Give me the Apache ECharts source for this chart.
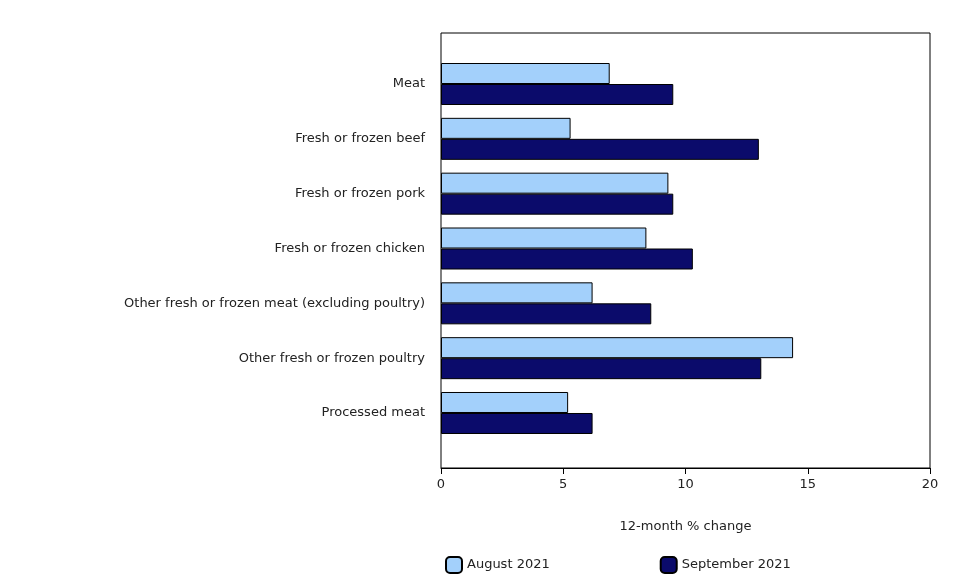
<!DOCTYPE html>
<html><head><meta charset="utf-8">
<script src="https://cdn.jsdelivr.net/npm/echarts@6/dist/echarts.min.js"></script>
<style>html,body{margin:0;padding:0;background:#fff}#c{width:980px;height:583px}</style>
</head><body><div id="c"></div>
<script>
const categories = ["Meat","Fresh or frozen beef","Fresh or frozen pork","Fresh or frozen chicken","Other fresh or frozen meat (excluding poultry)","Other fresh or frozen poultry","Processed meat"];
const aug2021 = [6.9,5.3,9.3,8.4,6.2,14.4,5.2];
const sep2021 = [9.5,13.0,9.5,10.3,8.6,13.1,6.2];
const xTicks = [0,5,10,15,20];
const font = 'DejaVu Sans';
const chart = echarts.init(document.getElementById('c'));
chart.setOption({
  animation:false,
  textStyle:{fontFamily:font,color:'#222'},
  grid:[
    {left:441,width:489,top:33,height:435,show:true,borderColor:'#000',borderWidth:1},
    {left:441,width:489,top:56.6,height:383.8}
  ],
  xAxis:[
    {gridIndex:0,type:'value',min:0,max:20,interval:5,
     axisLine:{show:true,lineStyle:{color:'#000'}},axisTick:{show:true,length:6,lineStyle:{color:'#000'}},
     splitLine:{show:false},axisLabel:{fontSize:13,color:'#222',margin:10,fontFamily:font},
     name:'12-month % change',nameLocation:'middle',nameGap:52,nameTextStyle:{fontSize:13,color:'#222',fontFamily:font}},
    {gridIndex:1,type:'value',min:0,max:20,show:false}
  ],
  yAxis:[
    {gridIndex:0,type:'value',show:false,min:0,max:1},
    {gridIndex:1,type:'category',data:categories,inverse:true,
     axisLine:{show:false},axisTick:{show:false},
     axisLabel:{fontSize:13,color:'#222',margin:16,fontFamily:font}}
  ],
  legend:{bottom:4,left:440,itemGap:110,itemWidth:16,itemHeight:16,
    textStyle:{fontSize:13,color:'#222',fontFamily:font},
    data:['August 2021','September 2021']},
  series:[
    {name:'August 2021',type:'bar',xAxisIndex:1,yAxisIndex:1,data:aug2021,barWidth:21,barGap:'0%',
     itemStyle:{color:'#a3d0fb',borderColor:'#000',borderWidth:1}},
    {name:'September 2021',type:'bar',xAxisIndex:1,yAxisIndex:1,data:sep2021,barWidth:21,barGap:'0%',
     itemStyle:{color:'#0b0b6b',borderColor:'#000',borderWidth:1}}
  ]
});
</script></body></html>
